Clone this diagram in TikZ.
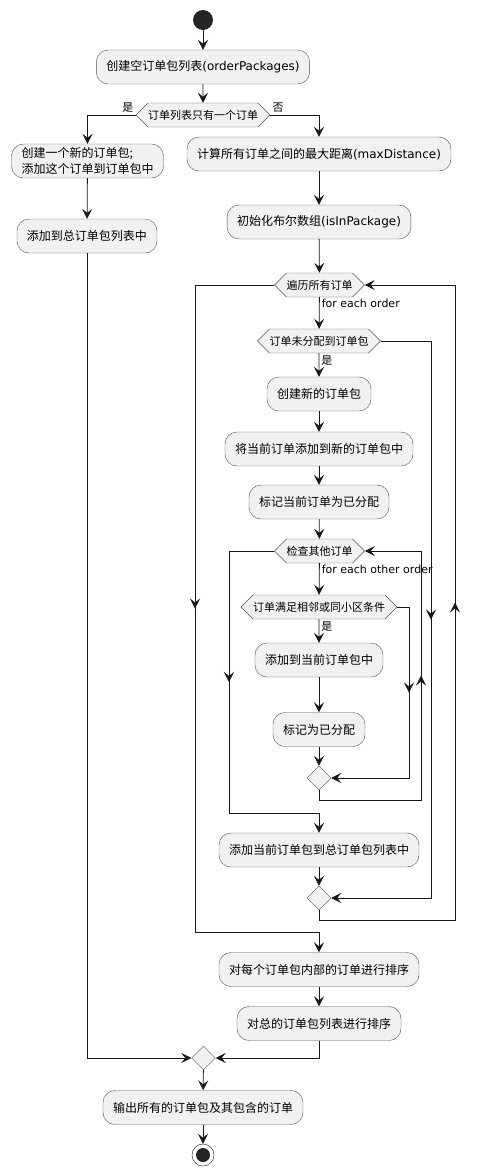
\documentclass[tikz,border=0pt]{standalone}
\usepackage{fontspec}
\setmainfont{DejaVu Sans}
\newfontfamily\cjk{Noto Sans CJK SC}
\usepackage{xcolor}
\usetikzlibrary{positioning, arrows.meta, shapes.geometric, shapes.symbols, decorations.markings}

\definecolor{actfill}{HTML}{F1F1F1}
\definecolor{lineclr}{HTML}{181818}
\newcommand{\lat}[1]{{\normalfont #1}}

\begin{document}
\begin{tikzpicture}[x=1pt, y=-1pt,
    act/.style={draw=lineclr!75, fill=actfill, rounded corners=12pt, minimum height=34pt,
        inner xsep=10pt, font=\fontsize{12}{16}\selectfont\cjk},
    cond/.style={draw=lineclr!75, fill=actfill, signal, signal to=west and east,
        signal pointer angle=90, minimum height=24pt, inner xsep=0pt, inner ysep=2pt,
        font=\fontsize{11}{13}\selectfont\cjk},
    merge/.style={draw=lineclr!75, fill=actfill, diamond, aspect=1, minimum size=24pt, inner sep=0pt},
    lbl/.style={inner sep=2pt, font=\fontsize{11}{13}\selectfont},
    flow/.style={draw=lineclr, line width=0.8pt, -{Stealth[length=10pt, width=10pt, inset=4pt]}},
    midarr/.style={draw=lineclr, line width=0.8pt, postaction={decorate},
        decoration={markings, mark=at position 0.5 with {\arrow{Stealth[length=10pt, width=10pt, inset=4pt]}}}}]

    \useasboundingbox (0,0) rectangle (480,1176);

    % Start
    \node[circle, fill=lineclr!95, minimum size=20pt, inner sep=0pt] (start) at (203,20) {};
    \node[act] (init) at (203,67) {创建空订单包列表\lat{(orderPackages)}};
    \node[cond] (single) at (203,115) {订单列表只有一个订单};

    % Single order
    \node[act, align=left] (one1) at (87.5,161) {创建一个新的订单包;\\添加这个订单到订单包中};
    \node[act] (one2) at (87,236) {添加到总订单包列表中};

    % Several orders
    \node[act] (maxd) at (319,154) {计算所有订单之间的最大距离\lat{(maxDistance)}};
    \node[act] (flags) at (319,222) {初始化布尔数组\lat{(isInPackage)}};
    \node[cond] (loopA) at (319.5,285) {遍历所有订单};
    \node[cond] (unassigned) at (319,341) {订单未分配到订单包};
    \node[act] (newpkg) at (319,394) {创建新的订单包};
    \node[act] (addnew) at (319,449) {将当前订单添加到新的订单包中};
    \node[act] (markA) at (319,502) {标记当前订单为已分配};
    \node[cond] (loopB) at (319.5,551) {检查其他订单};
    \node[cond] (near) at (319,607) {订单满足相邻或同小区条件};
    \node[act] (addcur) at (319,660) {添加到当前订单包中};
    \node[act] (markB) at (319,729.5) {标记为已分配};
    \node[merge] (mergeA) at (319,778) {};
    \node[act] (addlist) at (319,850) {添加当前订单包到总订单包列表中};
    \node[merge] (mergeB) at (319,898) {};
    \node[act] (sortin) at (319,969.5) {对每个订单包内部的订单进行排序};
    \node[act] (sortall) at (319,1023.5) {对总的订单包列表进行排序};

    % End
    \node[merge] (mergeC) at (203.5,1058) {};
    \node[act] (output) at (203,1107.5) {输出所有的订单包及其包含的订单};
    \node[circle, draw=lineclr, fill=white, minimum size=22pt, inner sep=0pt] (stop) at (203,1155) {};
    \node[circle, fill=lineclr!95, minimum size=14pt, inner sep=0pt] (stopdot) at (stop.center) {};

    % Corners of the loops
    \coordinate (nearR) at (409,607);
    \coordinate (nearRb) at (409,778);
    \coordinate (backB) at (319,800);
    \coordinate (backBr) at (421,800);
    \coordinate (backBt) at (421,551);
    \coordinate (exitB) at (229,551);
    \coordinate (exitBb) at (229,813);
    \coordinate (exitBc) at (319,813);
    \coordinate (skipA) at (431,341);
    \coordinate (skipAb) at (431,898);
    \coordinate (backA) at (319,920);
    \coordinate (backAr) at (455,920);
    \coordinate (backAt) at (455,285);
    \coordinate (exitA) at (195,285);
    \coordinate (exitAb) at (195,932);
    \coordinate (exitAc) at (319,932);

    % Main flow
    \draw[flow] (start) -- (init);
    \draw[flow] (init) -- (single);
    \draw[flow] (single.west) -| (one1) node[pos=0, anchor=south east, lbl] {\cjk 是};
    \draw[flow] (single.east) -| (maxd) node[pos=0, anchor=south west, lbl] {\cjk 否};
    \draw[flow] (one1) -- (one2);
    \draw[flow] (maxd) -- (flags);
    \draw[flow] (flags) -- (loopA);
    \draw[flow] (loopA) -- (unassigned) node[pos=0, anchor=north west, lbl] {for each order};
    \draw[flow] (unassigned) -- (newpkg) node[pos=0, anchor=north west, lbl] {\cjk 是};
    \draw[flow] (newpkg) -- (addnew);
    \draw[flow] (addnew) -- (markA);
    \draw[flow] (markA) -- (loopB);
    \draw[flow] (loopB) -- (near) node[pos=0, anchor=north west, lbl] {for each other order};
    \draw[flow] (near) -- (addcur) node[pos=0, anchor=north west, lbl] {\cjk 是};
    \draw[flow] (addcur) -- (markB);
    \draw[flow] (markB) -- (mergeA);

    % Inner loop
    \draw[flow] (near.east) -- (nearR) -- (nearRb) -- (mergeA.east);
    \draw[midarr] (nearR) -- (nearRb);
    \draw[flow] (mergeA.south) -- (backB) -- (backBr) -- (backBt) -- (loopB.east);
    \draw[midarr] (backBr) -- (backBt);
    \draw[flow] (loopB.west) -- (exitB) -- (exitBb) -- (exitBc) -- (addlist);
    \draw[midarr] (exitB) -- (exitBb);
    \draw[flow] (addlist) -- (mergeB);

    % Outer loop
    \draw[flow] (unassigned.east) -- (skipA) -- (skipAb) -- (mergeB.east);
    \draw[midarr] (skipA) -- (skipAb);
    \draw[flow] (mergeB.south) -- (backA) -- (backAr) -- (backAt) -- (loopA.east);
    \draw[midarr] (backAr) -- (backAt);
    \draw[flow] (loopA.west) -- (exitA) -- (exitAb) -- (exitAc) -- (sortin);
    \draw[midarr] (exitA) -- (exitAb);
    \draw[flow] (sortin) -- (sortall);

    % Join
    \draw[flow] (sortall.south) |- (mergeC.east);
    \draw[flow] (one2.south) |- (mergeC.west);
    \draw[flow] (mergeC) -- (output);
    \draw[flow] (output) -- (stop);

\end{tikzpicture}
\end{document}
